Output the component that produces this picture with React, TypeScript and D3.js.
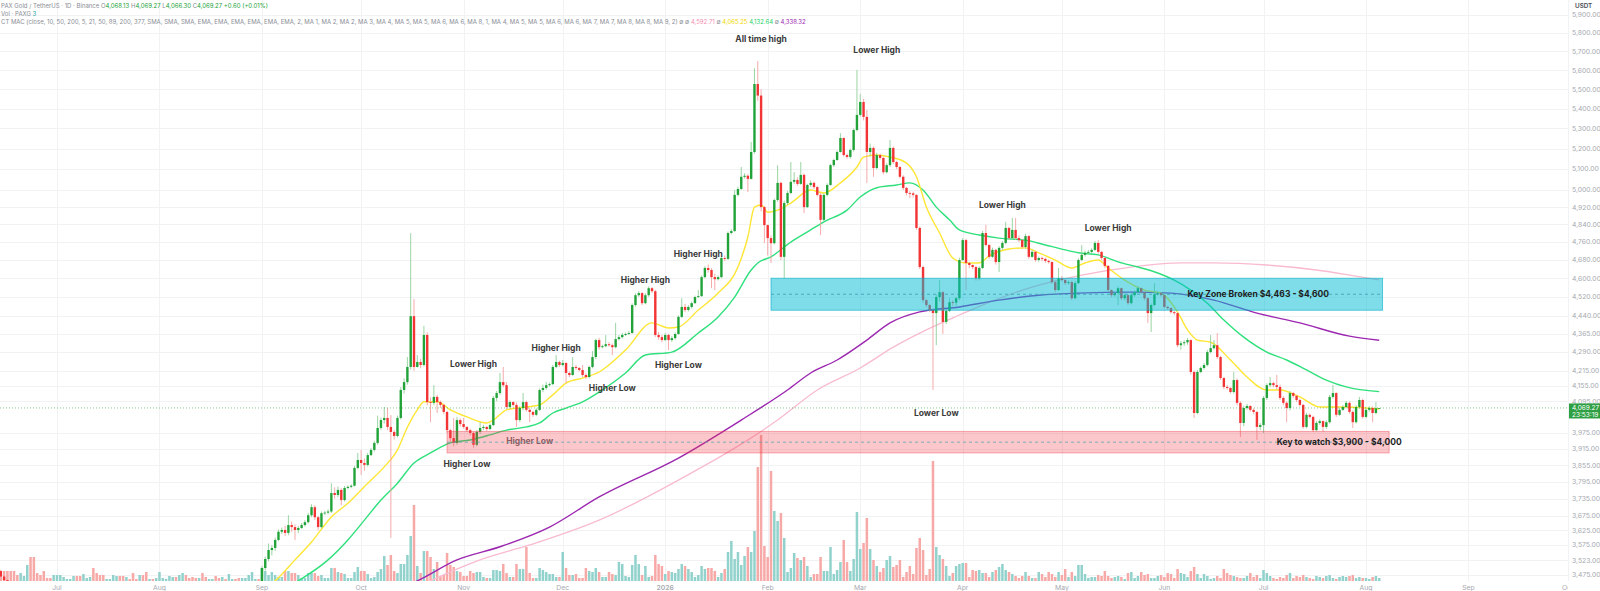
import React, { useEffect, useRef } from 'react';
import * as d3 from 'd3';

// [close, high, low] per day; open is the previous close
type Bar = [number, number, number];

const firstOpen = 3465;

const jun2025: Bar[] = [[3488,3500,3460],[3470,3492,3462],[3458,3475,3450],[3440,3462,3432],[3420,3445,3412],[3405,3425,3398],[3398,3410,3390],[3410,3418,3392],[3416,3420,3405],[3430,3438,3410],[3395,3440,3385],[3340,3400,3330],[3330,3350,3322],[3322,3338,3312],[3285,3328,3275],[3280,3290,3272],[3276,3285,3270],[3300,3308,3272]];
const jul2025: Bar[] = [[3340,3350,3295],[3352,3360,3335],[3355,3362,3345],[3358,3365,3350],[3360,3366,3354],[3362,3370,3355],[3345,3368,3338],[3300,3350,3290],[3315,3322,3295],[3325,3332,3310],[3355,3362,3320],[3348,3360,3340],[3345,3352,3338],[3340,3350,3332],[3330,3345,3322],[3340,3348,3325],[3345,3352,3335],[3350,3358,3340],[3352,3358,3345],[3350,3358,3344],[3340,3355,3332],[3430,3438,3335],[3390,3435,3382],[3370,3395,3362],[3335,3375,3328],[3338,3345,3330],[3336,3342,3328],[3315,3340,3308],[3325,3332,3310],[3290,3330,3282],[3295,3302,3285]];
const aug2025: Bar[] = [[3362,3370,3290],[3365,3372,3355],[3366,3372,3360],[3375,3382,3362],[3380,3388,3370],[3372,3385,3365],[3395,3402,3368],[3398,3405,3388],[3396,3402,3390],[3394,3400,3388],[3352,3398,3345],[3348,3360,3340],[3356,3362,3342],[3338,3360,3330],[3336,3345,3330],[3337,3342,3330],[3338,3344,3332],[3333,3342,3326],[3316,3338,3310],[3346,3352,3312],[3340,3350,3334],[3372,3380,3336],[3373,3378,3366],[3372,3378,3366],[3366,3375,3360],[3392,3398,3362],[3396,3402,3388],[3416,3422,3392],[3448,3455,3412],[3449,3455,3442],[3447,3452,3440]];
const sep2025: Bar[] = [[3498,3505,3440],[3528,3536,3490],[3558,3580,3520],[3565,3575,3540],[3592,3600,3555],[3620,3628,3588],[3626,3634,3612],[3616,3640,3605],[3643,3677,3608],[3636,3655,3620],[3626,3645,3592],[3633,3640,3615],[3643,3650,3630],[3653,3660,3638],[3677,3685,3648],[3705,3715,3670],[3670,3712,3660],[3636,3675,3625],[3684,3690,3632],[3686,3692,3678],[3690,3698,3680],[3755,3790,3685],[3748,3775,3735],[3766,3778,3740],[3730,3772,3712],[3773,3780,3725],[3777,3782,3768],[3781,3786,3772],[3845,3852,3778],[3874,3900,3840]];
const oct2025: Bar[] = [[3863,3911,3820],[3856,3880,3835],[3892,3900,3850],[3911,3918,3888],[3937,3945,3905],[3993,4040,3930],[4023,4032,3985],[4031,4073,4010],[3997,4070,3985],[3978,4042,3599],[3963,3985,3950],[4031,4040,3958],[4139,4150,4025],[4170,4185,4125],[4230,4270,4160],[4438,4800,4220],[4230,4510,4215],[4250,4278,4228],[4238,4262,4225],[4360,4398,4232],[4092,4370,4080],[4089,4110,4015],[4112,4158,4080],[4092,4120,4050],[4081,4098,4070],[4054,4085,4045],[3985,4058,3975],[3955,3990,3940],[3937,4031,3925],[4023,4035,3930],[4008,4030,3998]];
const nov2025: Bar[] = [[3997,4031,3990],[3985,4000,3978],[3974,3990,3965],[3930,3978,3919],[3978,3985,3925],[3993,4015,3970],[3997,4005,3985],[3989,4000,3982],[4004,4010,3985],[4108,4115,4000],[4127,4135,4095],[4170,4206,4120],[4158,4230,4150],[4073,4170,4065],[4092,4098,4068],[4081,4095,4075],[4023,4090,3997],[4069,4075,4015],[4092,4127,4060],[4062,4098,4055],[4054,4070,4015],[4043,4058,4035],[4062,4068,4038],[4139,4145,4058],[4147,4160,4130],[4158,4170,4140],[4162,4168,4152],[4230,4238,4158],[4250,4278,4225],[4238,4255,4230]];
const dec2025: Bar[] = [[4246,4258,4232],[4206,4250,4166],[4198,4212,4190],[4230,4270,4195],[4226,4238,4218],[4218,4230,4212],[4198,4238,4190],[4190,4205,4182],[4230,4236,4185],[4270,4294,4225],[4339,4345,4262],[4310,4348,4300],[4314,4320,4305],[4322,4360,4310],[4318,4330,4312],[4310,4325,4278],[4343,4410,4305],[4351,4360,4338],[4360,4368,4345],[4364,4370,4355],[4368,4376,4360],[4485,4492,4365],[4527,4535,4478],[4536,4545,4520],[4493,4540,4485],[4527,4535,4488],[4557,4565,4520],[4544,4562,4536],[4360,4550,4352],[4351,4372,4340],[4339,4360,4330]];
const jan2026: Bar[] = [[4360,4368,4335],[4339,4365,4298],[4347,4355,4332],[4364,4370,4340],[4435,4442,4360],[4477,4514,4430],[4464,4490,4455],[4477,4485,4458],[4493,4500,4470],[4519,4525,4490],[4523,4549,4515],[4605,4612,4520],[4645,4652,4600],[4636,4660,4625],[4605,4645,4557],[4596,4620,4549],[4605,4612,4590],[4689,4698,4600],[4685,4700,4675],[4801,4808,4680],[4810,4818,4795],[4977,5000,4805],[5005,5016,4970],[5063,5110,5000],[5068,5080,5055],[5053,5075,4990],[5183,5232,5050],[5527,5610,5175],[5467,5648,5440],[4920,5500,4900],[4837,4925,4755]];
const feb2026: Bar[] = [[4778,4840,4700],[4755,4790,4667],[4953,4960,4750],[5034,5118,4945],[4694,5040,4680],[4939,4950,4600],[4986,4995,4930],[5039,5134,4980],[5048,5085,5030],[5029,5060,5020],[5072,5134,5025],[4920,5080,4892],[5024,5030,4915],[5034,5045,5015],[5014,5040,5005],[4977,5020,4970],[4861,4985,4792],[4977,4985,4855],[5024,5032,4970],[5119,5125,5020],[5144,5150,5110],[5183,5190,5140],[5252,5276,5180],[5168,5255,5160],[5159,5175,5150],[5193,5200,5150],[5292,5300,5185],[5368,5601,5285]];
const mar2026: Bar[] = [[5434,5475,5360],[5358,5450,5340],[5183,5393,5034],[5203,5225,5160],[5105,5210,5063],[5168,5180,5100],[5154,5175,5145],[5085,5160,5075],[5119,5128,5080],[5203,5242,5110],[5134,5210,5125],[5110,5140,5100],[5063,5115,5055],[5010,5070,5000],[4986,5015,4975],[4984,4995,4962],[4977,4992,4965],[4824,4980,4815],[4649,4830,4640],[4506,4655,4495],[4485,4510,4475],[4464,4490,4455],[4451,4470,4139],[4519,4530,4318],[4540,4592,4500],[4414,4545,4364],[4460,4468,4405],[4497,4514,4455],[4495,4505,4480],[4514,4520,4478],[4680,4690,4505]];
const apr2026: Bar[] = [[4769,4778,4675],[4667,4775,4549],[4658,4672,4645],[4649,4660,4640],[4600,4655,4590],[4645,4652,4590],[4801,4810,4640],[4747,4838,4740],[4694,4752,4685],[4725,4735,4690],[4671,4730,4660],[4734,4742,4627],[4756,4765,4725],[4824,4852,4750],[4778,4830,4770],[4815,4870,4770],[4778,4870,4770],[4769,4790,4760],[4738,4775,4730],[4787,4798,4730],[4694,4792,4685],[4716,4725,4690],[4680,4720,4672],[4689,4695,4672],[4685,4695,4675],[4676,4690,4668],[4671,4682,4664],[4583,4675,4575],[4549,4590,4540],[4600,4645,4545]];
const may2026: Bar[] = [[4592,4610,4585],[4579,4598,4570],[4583,4590,4572],[4514,4590,4505],[4579,4588,4510],[4680,4688,4575],[4703,4747,4675],[4712,4722,4695],[4716,4725,4705],[4725,4732,4710],[4756,4765,4720],[4716,4769,4708],[4689,4720,4680],[4654,4692,4645],[4549,4658,4540],[4527,4552,4518],[4536,4542,4520],[4557,4565,4485],[4514,4560,4505],[4527,4535,4505],[4493,4530,4485],[4527,4535,4488],[4540,4548,4520],[4557,4565,4535],[4540,4560,4530],[4514,4545,4505],[4451,4518,4410],[4485,4492,4372],[4531,4579,4480],[4536,4545,4525],[4527,4540,4520]];
const jun2026: Bar[] = [[4477,4530,4470],[4472,4482,4465],[4455,4475,4448],[4451,4460,4442],[4318,4455,4310],[4326,4335,4300],[4330,4338,4315],[4339,4348,4320],[4210,4342,4200],[4050,4215,4031],[4210,4218,4045],[4226,4232,4205],[4238,4245,4220],[4290,4298,4232],[4306,4360,4285],[4318,4339,4300],[4270,4368,4262],[4186,4275,4178],[4151,4190,4142],[4147,4158,4140],[4131,4150,4125],[4178,4210,4125],[4089,4185,4080],[4012,4095,3959],[4069,4078,4000],[4077,4085,4062],[4062,4080,4055],[4054,4068,4045],[3997,4058,3948],[4004,4012,3985]];
const jul2026: Bar[] = [[4108,4115,3974],[4158,4165,4100],[4166,4190,4150],[4158,4172,4150],[4151,4198,4140],[4108,4160,4100],[4089,4115,4080],[4069,4095,4015],[4127,4135,4060],[4116,4132,4108],[4100,4120,4092],[4081,4105,4075],[3997,4085,3990],[4043,4050,3992],[4035,4048,4028],[3985,4040,3978],[4012,4020,3980],[4019,4026,4005],[3997,4022,3978],[4015,4022,3990],[4112,4120,4010],[4127,4158,4105],[4043,4130,4035],[4062,4070,4038],[4073,4080,4058],[4089,4096,4068],[4054,4095,4048],[4015,4060,3993],[4073,4080,4010],[4100,4112,4068],[4035,4105,4028]];
const aug2026: Bar[] = [[4062,4070,4030],[4069,4076,4055],[4050,4075,4015],[4068.13,4092,4045],[4069.27,4069.27,4066.3]];

// daily volume, PAXG
const volJun2025 = [9,10,10,10,10,10,6,8,5,16,24,24,8,6,10,3,3,6];
const volJul2025 = [6,6,4,2,2,5,5,5,7,3,4,13,8,6,6,2,2,6,5,5,5,4,2,8,2,6,6,9,2,2,3];
const volAug2025 = [9,3,2,5,4,4,6,8,6,3,4,3,3,8,4,2,2,5,3,4,2,7,2,2,3,3,3,6,9,2,2];
const volSep2025 = [13,10,6,9,6,4,4,10,10,8,8,6,3,3,8,8,8,5,6,3,3,13,13,9,8,7,3,3,9,14];
const volOct2025 = [10,10,7,3,4,9,12,25,16,26,10,8,17,17,26,45,76,15,8,30,30,24,12,19,5,6,28,16,14,10,9];
const volNov2025 = [5,5,10,8,9,9,4,3,3,11,11,10,17,8,4,4,17,12,12,34,8,3,3,13,11,9,7,7,4,4];
const volDec2025 = [29,13,6,6,7,3,3,13,10,9,13,9,4,4,9,7,6,19,17,5,4,16,26,17,6,15,4,5,26,17,15];
const volJan2026 = [7,10,9,8,12,17,15,12,9,4,6,15,12,13,13,10,4,8,12,29,40,22,29,16,25,34,29,50,114,146,35];
const volFeb2026 = [24,110,70,60,68,43,9,13,28,23,21,24,15,4,7,7,24,10,10,34,7,11,19,41,19,10,22,69];
const volMar2026 = [32,38,63,32,21,15,9,13,21,25,14,16,21,4,9,15,7,33,43,31,6,12,120,34,26,22,15,5,8,15,17];
const volApr2026 = [18,18,4,11,10,11,8,8,4,9,11,14,17,11,9,7,5,3,5,9,5,3,3,9,7,4,9,7,4,9];
const volMay2026 = [6,12,4,9,5,16,16,7,3,4,4,6,5,10,5,3,4,5,4,2,8,9,3,5,9,6,7,3,3,5,6];
const volJun2026 = [4,8,7,3,12,8,7,4,10,14,7,3,7,5,2,3,5,3,12,8,6,5,4,3,3,5,8,4,6,3];
const volJul2026 = [11,8,5,3,2,4,3,6,8,3,5,4,6,4,3,2,5,4,3,5,6,3,2,4,5,4,5,6,3,4,3];
const volAug2026 = [3,2,4,5,3];

const months: [string, Bar[], number[]][] = [
  ['2025-06-13', jun2025, volJun2025], ['2025-07-01', jul2025, volJul2025], ['2025-08-01', aug2025, volAug2025],
  ['2025-09-01', sep2025, volSep2025], ['2025-10-01', oct2025, volOct2025], ['2025-11-01', nov2025, volNov2025],
  ['2025-12-01', dec2025, volDec2025], ['2026-01-01', jan2026, volJan2026], ['2026-02-01', feb2026, volFeb2026],
  ['2026-03-01', mar2026, volMar2026], ['2026-04-01', apr2026, volApr2026], ['2026-05-01', may2026, volMay2026],
  ['2026-06-01', jun2026, volJun2026], ['2026-07-01', jul2026, volJul2026], ['2026-08-01', aug2026, volAug2026],
];

// moving averages: [date, value]
const sma200: [string, number][] = [['2025-10-15',3420],['2025-10-22',3456],['2025-11-06',3525],['2025-11-21',3575],['2025-12-12',3660],['2026-01-05',3801],['2026-02-04',4023],['2026-02-16',4139],['2026-03-01',4226],['2026-03-11',4310],['2026-03-21',4381],['2026-03-31',4443],['2026-04-07',4485],['2026-04-22',4562],['2026-05-07',4614],['2026-05-22',4649],['2026-06-06',4667],['2026-06-16',4667],['2026-07-02',4658],['2026-07-17',4636],['2026-07-27',4614],['2026-08-05',4592.71]];
const ema21: [string, number][] = [['2025-08-31',3415],['2025-09-05',3456],['2025-09-11',3525],['2025-09-16',3585],['2025-09-22',3671],['2025-09-27',3719],['2025-10-03',3790],['2025-10-08',3849],['2025-10-12',3911],['2025-10-15',3996],['2025-10-18',4062],['2025-10-20',4093],['2025-10-24',4093],['2025-10-28',4062],['2025-11-02',4035],['2025-11-08',4012],['2025-11-10',4023],['2025-11-14',4062],['2025-11-20',4073],['2025-11-24',4081],['2025-11-28',4120],['2025-12-02',4166],['2025-12-07',4186],['2025-12-12',4210],['2025-12-20',4298],['2025-12-28',4410],['2026-01-02',4389],['2026-01-05',4393],['2026-01-11',4464],['2026-01-17',4536],['2026-01-23',4649],['2026-01-26',4783],['2026-01-28',4920],['2026-01-30',4930],['2026-02-01',4896],['2026-02-04',4906],['2026-02-08',4939],['2026-02-14',5000],['2026-02-18',4986],['2026-02-23',5034],['2026-02-28',5110],['2026-03-02',5158],['2026-03-06',5168],['2026-03-10',5158],['2026-03-15',5129],['2026-03-18',5063],['2026-03-21',4920],['2026-03-25',4801],['2026-03-29',4689],['2026-04-02',4667],['2026-04-06',4667],['2026-04-09',4698],['2026-04-15',4729],['2026-04-20',4734],['2026-04-24',4712],['2026-04-29',4680],['2026-05-04',4645],['2026-05-08',4667],['2026-05-12',4680],['2026-05-15',4645],['2026-05-20',4592],['2026-05-26',4549],['2026-05-31',4536],['2026-06-05',4455],['2026-06-08',4381],['2026-06-11',4339],['2026-06-15',4330],['2026-06-21',4258],['2026-06-26',4190],['2026-07-02',4139],['2026-07-06',4139],['2026-07-12',4112],['2026-07-18',4073],['2026-07-26',4073],['2026-08-05',4065.25]];
const ema50: [string, number][] = [['2025-09-01',3395],['2025-09-12',3456],['2025-09-21',3525],['2025-09-27',3592],['2025-10-02',3660],['2025-10-07',3730],['2025-10-12',3790],['2025-10-17',3863],['2025-10-22',3900],['2025-10-28',3937],['2025-11-03',3948],['2025-11-09',3967],['2025-11-14',3985],['2025-11-20',3997],['2025-11-24',4012],['2025-11-28',4050],['2025-12-02',4069],['2025-12-07',4093],['2025-12-12',4131],['2025-12-20',4206],['2025-12-26',4278],['2026-01-03',4290],['2026-01-11',4368],['2026-01-17',4435],['2026-01-22',4519],['2026-01-27',4636],['2026-01-29',4667],['2026-02-02',4694],['2026-02-08',4760],['2026-02-14',4815],['2026-02-18',4852],['2026-02-25',4906],['2026-03-01',4967],['2026-03-06',5011],['2026-03-12',5024],['2026-03-16',5034],['2026-03-20',5000],['2026-03-24',4920],['2026-03-28',4861],['2026-03-31',4815],['2026-04-06',4792],['2026-04-12',4778],['2026-04-20',4769],['2026-04-26',4747],['2026-05-02',4725],['2026-05-06',4712],['2026-05-12',4703],['2026-05-18',4672],['2026-05-24',4649],['2026-05-30',4623],['2026-06-04',4592],['2026-06-09',4549],['2026-06-14',4493],['2026-06-19',4422],['2026-06-25',4351],['2026-07-02',4290],['2026-07-08',4258],['2026-07-14',4218],['2026-07-20',4178],['2026-07-26',4151],['2026-08-05',4132.64]];
const ema89: [string, number][] = [['2025-10-10',3420],['2025-10-18',3456],['2025-10-30',3525],['2025-11-12',3569],['2025-11-27',3636],['2025-12-12',3741],['2026-01-05',3881],['2026-01-24',4023],['2026-02-07',4139],['2026-02-14',4206],['2026-02-22',4258],['2026-03-03',4339],['2026-03-10',4410],['2026-03-19',4456],['2026-03-31',4477],['2026-04-12',4506],['2026-04-24',4527],['2026-05-06',4536],['2026-05-22',4540],['2026-06-03',4536],['2026-06-16',4506],['2026-06-29',4451],['2026-07-12',4410],['2026-07-27',4355],['2026-08-05',4338.32]];

const priceTicks = [5900,5800,5700,5600,5500,5400,5300,5200,5100,5000,4920,4840,4760,4680,4600,4520,4440,4365,4290,4215,4155,4095,3975,3915,3855,3795,3735,3675,3625,3575,3523,3475];

const swingLabels: [string, string, number][] = [
  ['All time high', '2026-01-30', 5751], ['Lower High', '2026-03-06', 5691],
  ['Higher High', '2026-01-11', 4694], ['Higher High', '2025-12-26', 4579], ['Higher High', '2025-11-29', 4294],
  ['Lower High', '2025-11-04', 4230], ['Higher Low', '2025-12-16', 4135], ['Higher Low', '2026-01-05', 4226],
  ['Higher Low', '2025-11-02', 3849], ['Lower High', '2026-04-13', 4915], ['Lower High', '2026-05-15', 4811],
  ['Lower Low', '2026-03-24', 4039],
];
const hiddenLabel: [string, string, number] = ['Higher Low', '2025-11-21', 3933];

const keyZone = { from: '2026-02-02', to: '2026-08-06', low: 4463, high: 4600, label: 'Key Zone Broken $4,463 - $4,600', labelAt: '2026-06-08' };
const keyWatch = { from: '2025-10-27', to: '2026-08-08', low: 3900, high: 3980, label: 'Key to watch $3,900 - $4,000', labelAt: '2026-07-05' };

const lastPrice = 4069.27;

const W = 1600;
const H = 591;
const plotRight = 1568;
const paneBottom = 581;
const FONT = "Inter, 'Noto Sans', sans-serif";

export default function App() {
  const svgRef = useRef<SVGSVGElement>(null);

  useEffect(() => {
    if (!svgRef.current) return;
    document.body.style.margin = '0';
    const parse = d3.timeParse('%Y-%m-%d');
    const svg = d3.select(svgRef.current);
    svg.selectAll('*').remove();

    // flatten months into candles
    const candles: { date: Date; o: number; h: number; l: number; c: number; v: number }[] = [];
    let prev = firstOpen;
    months.forEach(([start, bars, vols]) => {
      const d0 = parse(start)!;
      bars.forEach((b, i) => {
        candles.push({ date: d3.timeDay.offset(d0, i), o: prev, c: b[0], h: b[1], l: b[2], v: vols[i] ?? 0 });
        prev = b[0];
      });
    });

    const x = d3.scaleTime().domain([new Date(2025, 6, 1), new Date(2026, 7, 1)]).range([57, 1366]);
    const y = d3.scaleLog().domain([3475, 5800]).range([575, 33]);
    const vy = d3.scaleLinear().domain([0, d3.max(candles, d => d.v) || 1]).range([paneBottom, 435]);

    svg.append('rect').attr('width', W).attr('height', H).attr('fill', '#ffffff');

    const defs = svg.append('defs');
    defs.append('clipPath').attr('id', 'plot-clip')
      .append('rect').attr('x', 0).attr('y', 0).attr('width', plotRight).attr('height', paneBottom);
    defs.append('clipPath').attr('id', 'time-clip')
      .append('rect').attr('x', 0).attr('y', paneBottom).attr('width', plotRight).attr('height', H - paneBottom);

    const monthTicks = d3.timeMonth.range(new Date(2025, 6, 1), new Date(2026, 9, 2));

    // grid
    const grid = svg.append('g').attr('stroke', '#f1f2f4').attr('stroke-width', 1);
    grid.selectAll('line.h').data(priceTicks).join('line')
      .attr('x1', 0).attr('x2', plotRight)
      .attr('y1', d => Math.round(y(d)) + 0.5).attr('y2', d => Math.round(y(d)) + 0.5);
    grid.selectAll('line.v').data(monthTicks).join('line')
      .attr('y1', 0).attr('y2', paneBottom)
      .attr('x1', d => Math.round(x(d)) + 0.5).attr('x2', d => Math.round(x(d)) + 0.5);

    const plot = svg.append('g').attr('clip-path', 'url(#plot-clip)');

    // volume
    plot.append('g').selectAll('rect').data(candles).join('rect')
      .attr('x', d => x(d.date) - 1.25)
      .attr('width', 2.5)
      .attr('y', d => vy(d.v))
      .attr('height', d => paneBottom - vy(d.v))
      .attr('fill', d => (d.c >= d.o ? '#92d2cc' : '#f7a9a7'));

    // moving averages
    const maLine = d3.line<[string, number]>()
      .x(d => x(parse(d[0])!))
      .y(d => y(d[1]))
      .curve(d3.curveMonotoneX);
    const maSeries: [[string, number][], string, number][] = [
      [sma200, '#f8bbd0', 1.3],
      [ema89, '#9c27b0', 1.4],
      [ema50, '#2fe07c', 1.4],
      [ema21, '#fde635', 1.4],
    ];
    maSeries.forEach(([data, color, w]) => {
      plot.append('path').datum(data)
        .attr('d', maLine)
        .attr('fill', 'none')
        .attr('stroke', color)
        .attr('stroke-width', w);
    });

    // candles
    const up = '#22a33a';
    const down = '#f23434';
    const cg = plot.append('g');
    cg.selectAll('line').data(candles).join('line')
      .attr('x1', d => x(d.date)).attr('x2', d => x(d.date))
      .attr('y1', d => y(d.h)).attr('y2', d => y(d.l))
      .attr('stroke', d => (d.c >= d.o ? '#8fd09a' : '#f5a1a1'))
      .attr('stroke-width', 0.9);
    cg.selectAll('rect').data(candles).join('rect')
      .attr('x', d => x(d.date) - 1.2)
      .attr('width', 2.4)
      .attr('y', d => y(Math.max(d.o, d.c)))
      .attr('height', d => Math.max(0.8, y(Math.min(d.o, d.c)) - y(Math.max(d.o, d.c))))
      .attr('fill', d => (d.c >= d.o ? up : down));

    // label that sits underneath the watch box
    plot.append('text')
      .attr('x', x(parse(hiddenLabel[1])!))
      .attr('y', y(hiddenLabel[2]))
      .attr('text-anchor', 'middle')
      .attr('font-family', FONT)
      .attr('font-size', 8.5)
      .attr('font-weight', 700)
      .attr('fill', '#6b6b6b')
      .text(hiddenLabel[0]);

    // zones
    const zone = (z: typeof keyZone, fill: string, stroke: string, dash: string) => {
      const x0 = x(parse(z.from)!);
      const x1 = x(parse(z.to)!);
      const yTop = y(z.high);
      const yBot = y(z.low);
      plot.append('rect')
        .attr('x', x0).attr('y', yTop).attr('width', x1 - x0).attr('height', yBot - yTop)
        .attr('fill', fill).attr('stroke', stroke).attr('stroke-width', 1);
      const mid = (yTop + yBot) / 2;
      plot.append('line')
        .attr('x1', x0).attr('x2', x1).attr('y1', mid).attr('y2', mid)
        .attr('stroke', dash).attr('stroke-width', 0.8).attr('stroke-dasharray', '3,3');
      plot.append('text')
        .attr('x', x(parse(z.labelAt)!))
        .attr('y', mid + 3)
        .attr('font-family', FONT)
        .attr('font-size', 8.5)
        .attr('font-weight', 700)
        .attr('fill', '#1e1e1e')
        .text(z.label);
    };
    zone(keyZone, 'rgba(0,188,212,0.5)', 'rgba(0,172,196,0.6)', '#3a9fb0');
    zone(keyWatch, 'rgba(242,54,69,0.28)', 'rgba(242,54,69,0.4)', '#5aa6b4');

    // swing labels
    plot.append('g').selectAll('text').data(swingLabels).join('text')
      .attr('x', d => x(parse(d[1])!))
      .attr('y', d => y(d[2]))
      .attr('text-anchor', 'middle')
      .attr('font-family', FONT)
      .attr('font-size', 8.5)
      .attr('font-weight', 700)
      .attr('fill', '#3a3a3a')
      .text(d => d[0]);

    // last price line
    plot.append('line')
      .attr('x1', 0).attr('x2', plotRight)
      .attr('y1', y(lastPrice)).attr('y2', y(lastPrice))
      .attr('stroke', up).attr('stroke-opacity', 0.7)
      .attr('stroke-width', 0.8).attr('stroke-dasharray', '1,2');

    // time axis
    svg.append('g').attr('clip-path', 'url(#time-clip)')
      .selectAll('text').data(monthTicks).join('text')
      .attr('x', d => x(d))
      .attr('y', 590)
      .attr('text-anchor', 'middle')
      .attr('font-family', FONT)
      .attr('font-size', 6.8)
      .attr('font-weight', d => (d.getMonth() === 0 ? 600 : 400))
      .attr('fill', '#a6a9b0')
      .text(d => (d.getMonth() === 0 ? d3.timeFormat('%Y')(d) : d3.timeFormat('%b')(d)));

    // price axis
    const fmt = d3.format(',.2f');
    svg.append('g').selectAll('text').data(priceTicks).join('text')
      .attr('x', 1572)
      .attr('y', d => y(d) + 2.4)
      .attr('font-family', FONT)
      .attr('font-size', 6.8)
      .attr('fill', '#a6a9b0')
      .text(d => fmt(d));

    const usdt = svg.append('g');
    usdt.append('rect').attr('x', 1570).attr('y', 0).attr('width', 30).attr('height', 11).attr('fill', '#ffffff');
    usdt.append('text').attr('x', 1575).attr('y', 7.5)
      .attr('font-family', FONT).attr('font-size', 6.3).attr('font-weight', 600).attr('fill', '#4a4d55')
      .text('USDT');

    const tag = svg.append('g');
    const ty = y(lastPrice);
    tag.append('rect').attr('x', 1569).attr('y', ty - 4.5).attr('width', 31).attr('height', 15).attr('fill', '#2ea043');
    tag.append('text').attr('x', 1572).attr('y', ty + 2.2)
      .attr('font-family', FONT).attr('font-size', 6.5).attr('fill', '#ffffff').text(fmt(lastPrice));
    tag.append('text').attr('x', 1572).attr('y', ty + 9)
      .attr('font-family', FONT).attr('font-size', 6.5).attr('fill', '#ffffff').text('23:53:19');

    // legend header
    const head = svg.append('g').attr('font-family', FONT).attr('font-size', 6).attr('fill', '#8a8d96');
    const l1 = head.append('text').attr('x', 1).attr('y', 7.5);
    l1.append('tspan').text('PAX Gold / TetherUS · 1D · Binance  O');
    l1.append('tspan').attr('fill', '#22a33a').text('4,068.13');
    l1.append('tspan').text(' H');
    l1.append('tspan').attr('fill', '#22a33a').text('4,069.27');
    l1.append('tspan').text(' L');
    l1.append('tspan').attr('fill', '#22a33a').text('4,066.30');
    l1.append('tspan').text(' C');
    l1.append('tspan').attr('fill', '#22a33a').text('4,069.27 +0.60 (+0.01%)');
    const l2 = head.append('text').attr('x', 1).attr('y', 15.5);
    l2.append('tspan').text('Vol · PAXG ');
    l2.append('tspan').attr('fill', '#26a69a').text('3');
    const l3 = head.append('text').attr('x', 1).attr('y', 23.5);
    l3.append('tspan').text('CT MAC (close, 10, 50, 200, 5, 21, 50, 89, 200, 377, SMA, SMA, SMA, EMA, EMA, EMA, EMA, EMA, EMA, 2, MA 1, MA 2, MA 2, MA 3, MA 4, MA 5, MA 5, MA 6, MA 6, MA 8, 1, MA 4, MA 5, MA 5, MA 6, MA 6, MA 7, MA 7, MA 8, MA 8, MA 9, 2) ∅ ∅ ');
    l3.append('tspan').attr('fill', '#f48fb1').text('4,592.71');
    l3.append('tspan').text(' ∅ ');
    l3.append('tspan').attr('fill', '#f2d600').text('4,065.25');
    l3.append('tspan').text(' ');
    l3.append('tspan').attr('fill', '#1fd26a').text('4,132.64');
    l3.append('tspan').text(' ∅ ');
    l3.append('tspan').attr('fill', '#9c27b0').text('4,338.32');
  }, []);

  return <svg ref={svgRef} width={W} height={H} style={{ display: 'block' }} />;
}
